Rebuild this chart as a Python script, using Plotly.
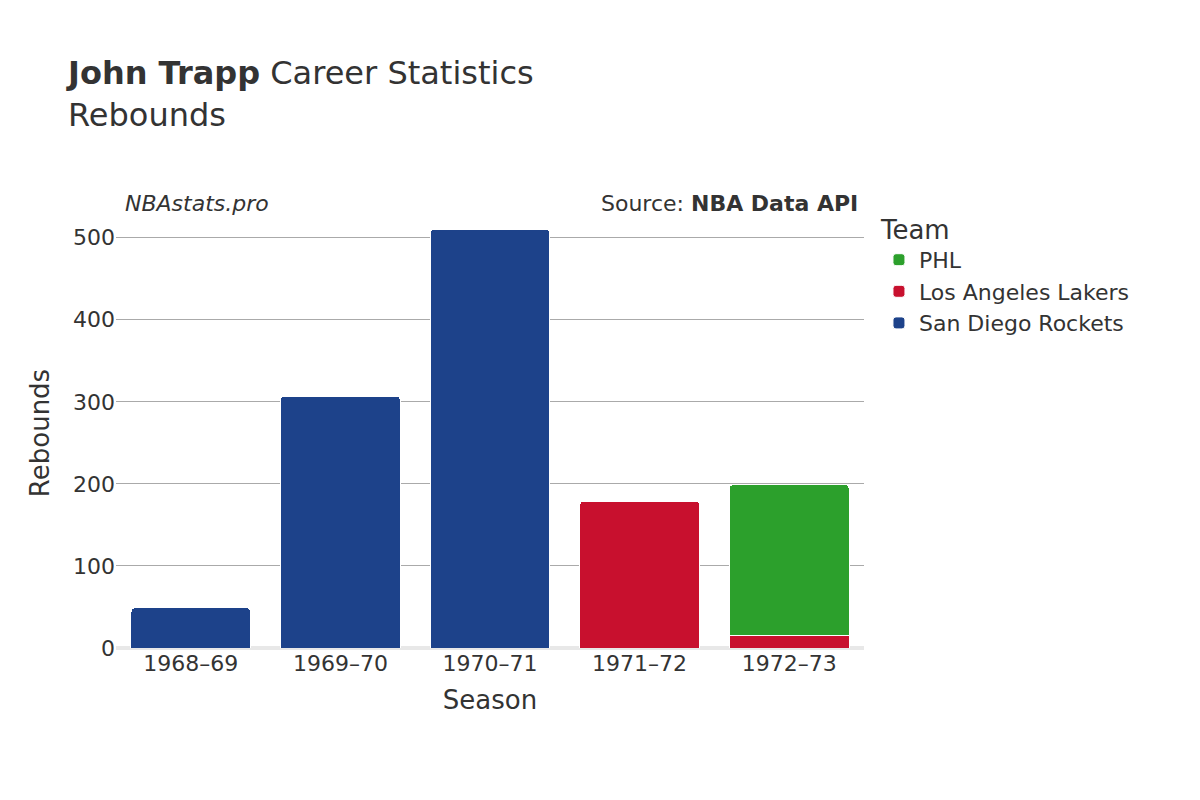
import plotly.graph_objects as go

seasons = ["1968–69", "1969–70", "1970–71", "1971–72", "1972–73"]
teams = ["San Diego Rockets", "Los Angeles Lakers", "PHL"]
colors = ["#1d428a", "#c8102e", "#2ca02c"]
values = {
    "San Diego Rockets": [49, 307, 510, None, None],
    "Los Angeles Lakers": [None, None, None, 179, 15],
    "PHL": [None, None, None, None, 184],
}

fig = go.Figure()
for t, c in zip(teams, colors):
    fig.add_trace(go.Bar(x=seasons, y=values[t], name=t, marker_color=c,
                         marker_line_color="white", marker_line_width=1))

fig.update_layout(
    barmode="stack", bargap=0.2, barcornerradius=4,
    width=1200, height=800,
    paper_bgcolor="white", plot_bgcolor="white",
    font=dict(family="DejaVu Sans", color="#333", size=20),
    margin=dict(l=108, r=344, t=210, b=160),
    title=dict(text="<b>John Trapp</b> Career Statistics<br>Rebounds",
               x=0.05, xanchor="left", y=0.905, yanchor="top",
               font=dict(size=32)),
    legend=dict(title=dict(text="Team", font=dict(size=26)), x=1.02, y=1.03,
                yanchor="top", font=dict(size=22)),
    xaxis=dict(title=dict(text="Season", font=dict(size=26)), tickfont=dict(size=22)),
    yaxis=dict(title=dict(text="Rebounds", font=dict(size=26)), tickfont=dict(size=22),
               range=[0, 524], gridcolor="#aaa", zeroline=True,
               zerolinecolor="#e8e8e8", zerolinewidth=4, dtick=100),
)
fig.add_annotation(text="<i>NBAstats.pro</i>", xref="paper", yref="paper",
                   x=0.01, y=1.0, xanchor="left", yanchor="bottom",
                   showarrow=False, font=dict(size=22))
fig.add_annotation(text="Source: <b>NBA Data API</b>", xref="paper", yref="paper",
                   x=0.995, y=1.0, xanchor="right", yanchor="bottom",
                   showarrow=False, font=dict(size=22))
fig.write_html("out.html")
